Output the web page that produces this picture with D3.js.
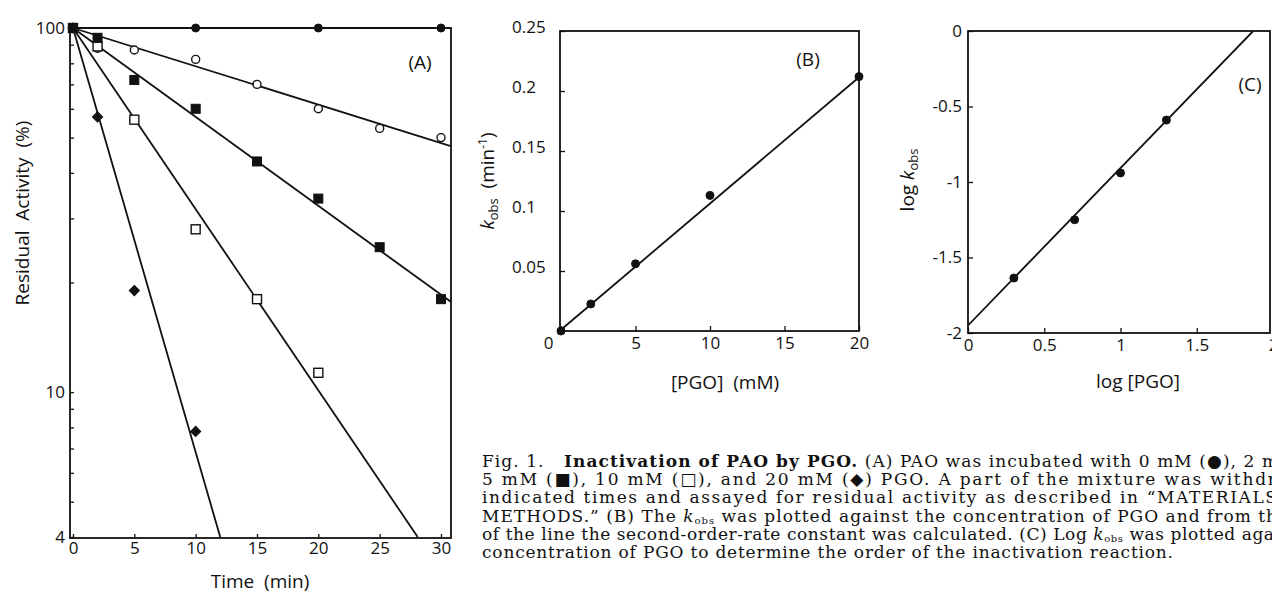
<!DOCTYPE html>
<html>
<head>
  <meta charset="utf-8">
  <title>Inactivation of PAO by PGO</title>
  <script src="https://d3js.org/d3.v7.min.js"></script>
  <style>
    body { margin: 0; background: #fff; }
    .tick text { font-family: "Open Sans", sans-serif; font-size: 17px; fill: #111; }
    .lbl { font-family: "Open Sans", sans-serif; font-size: 19px; fill: #111; }
    .cap { font-family: "DejaVu Serif", serif; font-size: 17px; fill: #111; }
  </style>
</head>
<body>
<svg id="fig" width="1272" height="594"></svg>
<script>
// ---- panel A: residual activity (%) vs time (min), one series per [PGO] ----
var time0 = [0, 10, 20, 30];
var act0  = [100, 100, 100, 100];
var time2 = [0, 2, 5, 10, 15, 20, 25, 30];
var act2  = [100, 88, 87, 82, 70, 60, 53, 50];
var time5 = [0, 2, 5, 10, 15, 20, 25, 30];
var act5  = [100, 94, 72, 60, 43, 34, 25, 18];
var time10 = [0, 2, 5, 10, 15, 20];
var act10  = [100, 89, 56, 28, 18, 11.3];
var time20 = [0, 2, 5, 10];
var act20  = [100, 57, 19, 7.8];
// fitted lines, [time, activity] at both ends
var fit0  = [[0, 100], [30.8, 100]];
var fit2  = [[0, 100], [30.8, 47.4]];
var fit5  = [[0, 100], [30.8, 17.7]];
var fit10 = [[0, 100], [28.1, 4]];
var fit20 = [[0, 100], [12.0, 4]];
var xTicksA = [0, 5, 10, 15, 20, 25, 30];
var yTicksA = [4, 5, 6, 7, 8, 9, 10, 20, 30, 40, 50, 60, 70, 80, 90, 100];
var yLabelsA = [4, 10, 100];

// ---- panel B: kobs vs [PGO] ----
var pgoB  = [0, 2, 5, 10, 20];
var kobsB = [0, 0.0225, 0.056, 0.113, 0.212];
var fitB  = [[0, 0.001], [20, 0.2115]];
var xTicksB = [0, 5, 10, 15, 20];
var yTicksB = [0.05, 0.1, 0.15, 0.2, 0.25];
var yLabelsB = ["0.05", "0.1", "0.15", "0.2", "0.25"];

// ---- panel C: log kobs vs log [PGO] ----
var logPgoC = [0.301, 0.699, 1.0, 1.301];
var logKC   = [-1.636, -1.25, -0.94, -0.59];
var fitC    = [[0, -1.95], [1.87, 0]];
var xTicksC = [0, 0.5, 1, 1.5, 2];
var xLabelsC = ["0", "0.5", "1", "1.5", "2"];
var yTicksC = [-2, -1.5, -1, -0.5, 0];
var yLabelsC = ["-2", "-1.5", "-1", "-0.5", "0"];

var svg = d3.select("#fig");
var ink = "#111";

// marker drawing: circle / square / diamond, filled or open
function marker(g, kind, filled, x, y) {
  var s;
  if (kind == "circle") s = g.append("circle").attr("cx", x).attr("cy", y).attr("r", 4);
  else if (kind == "square") s = g.append("rect").attr("x", x - 4.5).attr("y", y - 4.5).attr("width", 9).attr("height", 9);
  else s = g.append("rect").attr("x", x - 3.6).attr("y", y - 3.6).attr("width", 7.2).attr("height", 7.2)
            .attr("transform", "rotate(45," + x + "," + y + ")");
  s.attr("fill", filled ? ink : "#fff").attr("stroke", ink).attr("stroke-width", filled ? 1 : 1.4);
}

function frame(x0, y0, x1, y1) {
  svg.append("rect").attr("x", x0).attr("y", y0).attr("width", x1 - x0).attr("height", y1 - y0)
    .attr("fill", "none").attr("stroke", ink).attr("stroke-width", 1.8);
}

function styleAxis(g) {
  g.select(".domain").remove();
  g.selectAll(".tick line").attr("stroke", ink).attr("stroke-width", 1.3);
}

function clipTo(id, x0, y0, x1, y1) {
  svg.append("clipPath").attr("id", id).append("rect")
    .attr("x", x0).attr("y", y0).attr("width", x1 - x0).attr("height", y1 - y0);
}

// ================= panel A =================
var xA = d3.scaleLinear().domain([0, 30]).range([73, 441]);
var yA = d3.scaleLog().domain([4, 100]).range([537, 28]);
clipTo("clipA", 70, 26, 451, 538);

svg.append("g").attr("transform", "translate(70,0)")
  .call(d3.axisLeft(yA).tickValues(yTicksA).tickSize(-4).tickPadding(5)
    .tickFormat(function(d) { return yLabelsA.indexOf(d) >= 0 ? d : ""; }))
  .call(styleAxis);
svg.append("g").attr("transform", "translate(0,538)")
  .call(d3.axisBottom(xA).tickValues(xTicksA).tickSize(-4).tickPadding(4))
  .call(styleAxis);
frame(70, 28, 451, 538);

var lineA = d3.line().x(function(d) { return xA(d[0]); }).y(function(d) { return yA(d[1]); });
var seriesA = [
  {t: time0,  v: act0,  fit: fit0,  kind: "circle",  filled: true},
  {t: time2,  v: act2,  fit: fit2,  kind: "circle",  filled: false},
  {t: time10, v: act10, fit: fit10, kind: "square",  filled: false},
  {t: time20, v: act20, fit: fit20, kind: "diamond", filled: true},
  {t: time5,  v: act5,  fit: fit5,  kind: "square",  filled: true}
];
var gA = svg.append("g");
seriesA.forEach(function(s) {
  gA.append("path").attr("d", lineA(s.fit)).attr("clip-path", "url(#clipA)")
    .attr("fill", "none").attr("stroke", ink).attr("stroke-width", 1.8);
});
seriesA.forEach(function(s) {
  s.t.forEach(function(t, i) { marker(gA, s.kind, s.filled, xA(t), yA(s.v[i])); });
});
svg.append("text").attr("class", "lbl").attr("x", 420).attr("y", 69).attr("text-anchor", "middle").text("(A)");
svg.append("text").attr("class", "lbl").attr("x", 260).attr("y", 588).attr("text-anchor", "middle")
  .text("Time\u00a0\u00a0(min)");
svg.append("text").attr("class", "lbl").attr("transform", "translate(29,213) rotate(-90)")
  .attr("text-anchor", "middle").text("Residual\u00a0\u00a0Activity\u00a0\u00a0(%)");

// ================= panel B =================
var xB = d3.scaleLinear().domain([0, 20]).range([561, 859]);
var yB = d3.scaleLinear().domain([0, 0.25]).range([331, 31]);
clipTo("clipB", 560, 31, 859, 331);

var axYB = svg.append("g").attr("transform", "translate(560,0)")
  .call(d3.axisLeft(yB).tickValues(yTicksB).tickSize(-5)
    .tickFormat(function(d, i) { return yLabelsB[i]; }))
  .call(styleAxis);
axYB.selectAll(".tick text").attr("text-anchor", "start").attr("x", -48).attr("dy", "0.1em");
var axXB = svg.append("g").attr("transform", "translate(0,331)")
  .call(d3.axisBottom(xB).tickValues(xTicksB).tickSize(-5).tickPadding(6))
  .call(styleAxis);
axXB.selectAll(".tick text").filter(function(d) { return d === 0; }).attr("x", -13);
frame(560, 31, 859, 331);

var lineB = d3.line().x(function(d) { return xB(d[0]); }).y(function(d) { return yB(d[1]); });
svg.append("path").attr("d", lineB(fitB)).attr("clip-path", "url(#clipB)")
  .attr("fill", "none").attr("stroke", ink).attr("stroke-width", 1.8);
var gB = svg.append("g");
pgoB.forEach(function(p, i) { marker(gB, "circle", true, xB(p), yB(kobsB[i])); });

svg.append("text").attr("class", "lbl").attr("x", 808).attr("y", 66).attr("text-anchor", "middle").text("(B)");
svg.append("text").attr("class", "lbl").attr("x", 725).attr("y", 389).attr("text-anchor", "middle")
  .text("[PGO]\u00a0\u00a0(mM)");
var kLab = svg.append("text").attr("class", "lbl").attr("transform", "translate(494,181) rotate(-90)")
  .attr("text-anchor", "middle");
kLab.append("tspan").attr("font-style", "italic").text("k");
kLab.append("tspan").attr("font-size", "13px").attr("dy", 4).text("obs");
kLab.append("tspan").attr("dy", -4).text("\u00a0\u00a0(min");
kLab.append("tspan").attr("font-size", "12px").attr("dy", -7).text("-1");
kLab.append("tspan").attr("dy", 7).text(")");

// ================= panel C =================
var xC = d3.scaleLinear().domain([0, 2]).range([968, 1273]);
var yC = d3.scaleLinear().domain([-2, 0]).range([333, 31]);
clipTo("clipC", 968, 31, 1271, 333);

svg.append("g").attr("transform", "translate(968,0)")
  .call(d3.axisLeft(yC).tickValues(yTicksC).tickSize(-5).tickPadding(6)
    .tickFormat(function(d, i) { return yLabelsC[i]; }))
  .call(styleAxis);
svg.append("g").attr("transform", "translate(0,333)")
  .call(d3.axisBottom(xC).tickValues(xTicksC).tickSize(-5).tickPadding(6)
    .tickFormat(function(d, i) { return xLabelsC[i]; }))
  .call(styleAxis);
frame(968, 31, 1270, 333);

var lineC = d3.line().x(function(d) { return xC(d[0]); }).y(function(d) { return yC(d[1]); });
svg.append("path").attr("d", lineC(fitC)).attr("clip-path", "url(#clipC)")
  .attr("fill", "none").attr("stroke", ink).attr("stroke-width", 1.8);
var gC = svg.append("g");
logPgoC.forEach(function(p, i) { marker(gC, "circle", true, xC(p), yC(logKC[i])); });

svg.append("text").attr("class", "lbl").attr("x", 1250).attr("y", 91).attr("text-anchor", "middle").text("(C)");
svg.append("text").attr("class", "lbl").attr("x", 1138).attr("y", 388).attr("text-anchor", "middle").text("log [PGO]");
var lkLab = svg.append("text").attr("class", "lbl").attr("transform", "translate(914,180) rotate(-90)")
  .attr("text-anchor", "middle");
lkLab.append("tspan").text("log\u00a0");
lkLab.append("tspan").attr("font-style", "italic").text("k");
lkLab.append("tspan").attr("font-size", "13px").attr("dy", 4).text("obs");

// ================= caption =================
var capX = 482;
function capLine(y, len) {
  var t = svg.append("text").attr("class", "cap").attr("x", capX).attr("y", y);
  if (len) t.attr("textLength", len).attr("lengthAdjust", "spacing");
  return t;
}
function kobs(t) {
  t.append("tspan").attr("font-style", "italic").text("k");
  t.append("tspan").attr("font-size", "10px").attr("dy", 2).text("obs");
  t.append("tspan").attr("dy", -2).text(" ");
}
var c1 = capLine(467, 796);
c1.append("tspan").text("Fig. 1.\u00a0\u00a0 ");
c1.append("tspan").attr("font-weight", "bold").text("Inactivation of PAO by PGO.");
c1.append("tspan").text(" (A) PAO was incubated with 0 mM (\u25cf), 2 m");
capLine(485, 794).text("5 mM (\u25a0), 10 mM (\u25a1), and 20 mM (\u25c6) PGO. A part of the mixture was withdr");
capLine(503, 795).text("indicated times and assayed for residual activity as described in \u201cMATERIALS");
var c4 = capLine(522, 795);
c4.append("tspan").text("METHODS.\u201d (B) The ");
kobs(c4);
c4.append("tspan").text("was plotted against the concentration of PGO and from th");
var c5 = capLine(540, 792);
c5.append("tspan").text("of the line the second-order-rate constant was calculated. (C) Log ");
kobs(c5);
c5.append("tspan").text("was plotted aga");
capLine(558, 691).text("concentration of PGO to determine the order of the inactivation reaction.");
</script>
</body>
</html>
